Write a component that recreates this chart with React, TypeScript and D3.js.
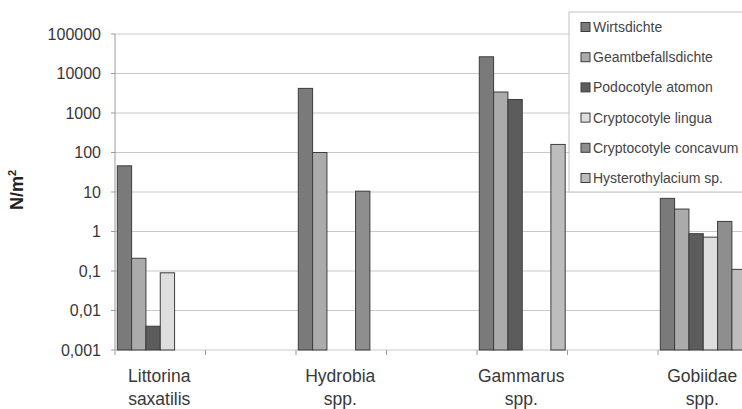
import React from "react";
import * as d3 from "d3";

const W = 742;
const H = 409;

// Categories, with empty spacer slots between the taxa
const categories = ["Littorina|saxatilis", "_1", "Hydrobia|spp.", "_2", "Gammarus|spp.", "_3", "Gobiidae|spp.", "_4"];
const seriesNames = [
  "Wirtsdichte",
  "Geamtbefallsdichte",
  "Podocotyle atomon",
  "Cryptocotyle lingua",
  "Cryptocotyle concavum",
  "Hysterothylacium sp.",
];
const seriesColors = ["#7a7a7a", "#ababab", "#5c5c5c", "#dedede", "#8e8e8e", "#bdbdbd"];

// Densities (N/m²) per taxon, null = not present
const littorina = [46, 0.21, 0.004, 0.09, null, null];
const hydrobia = [4200, 100, null, null, 10.5, null];
const gammarus = [26500, 3400, 2200, null, null, 160];
const gobiidae = [6.9, 3.7, 0.88, 0.72, 1.8, 0.11];

const valuesByCategory: Record<string, (number | null)[]> = {
  "Littorina|saxatilis": littorina,
  "Hydrobia|spp.": hydrobia,
  "Gammarus|spp.": gammarus,
  "Gobiidae|spp.": gobiidae,
};

const yTicks = [0.001, 0.01, 0.1, 1, 10, 100, 1000, 10000, 100000];
const yTickLabels = ["0,001", "0,01", "0,1", "1", "10", "100", "1000", "10000", "100000"];

const plotLeft = 115;
const plotTop = 34;
const plotBottom = 350;
const slotWidth = 90.5;

export default function App() {
  const x = d3
    .scaleBand<string>()
    .domain(categories)
    .range([plotLeft, plotLeft + slotWidth * categories.length])
    .padding(0);
  const xs = d3.scaleBand<string>().domain(seriesNames).range([2.3, 88.2]).padding(0);
  const y = d3.scaleLog().domain([0.001, 100000]).range([plotBottom, plotTop]);

  const font = "'Liberation Sans', Arial, sans-serif";
  const legendX = 569;
  const legendY = 12;

  return (
    <svg
      width={W}
      height={H}
      style={{ position: "absolute", left: 0, top: 0, background: "#fff" }}
      fontFamily={font}
    >
      <rect x={0} y={0} width={W} height={H} fill="#fff" />
      {/* gridlines */}
      {yTicks.map((t) => (
        <line key={"g" + t} x1={plotLeft} x2={W} y1={y(t)} y2={y(t)} stroke="#c9c9c9" strokeWidth={1} />
      ))}
      {/* y axis */}
      <line x1={plotLeft} x2={plotLeft} y1={plotTop} y2={plotBottom} stroke="#9a9a9a" strokeWidth={1} />
      {yTicks.map((t, i) => (
        <g key={"t" + t}>
          <line x1={plotLeft - 4} x2={plotLeft} y1={y(t)} y2={y(t)} stroke="#9a9a9a" />
          <text x={101} y={y(t) + 5.5} textAnchor="end" fontSize={16} fill="#383838">
            {yTickLabels[i]}
          </text>
        </g>
      ))}
      {/* category ticks */}
      {categories.map((c) => (
        <line
          key={"ct" + c}
          x1={x(c)!}
          x2={x(c)!}
          y1={plotBottom}
          y2={plotBottom + 5}
          stroke="#9a9a9a"
        />
      ))}
      {/* bars */}
      {categories.map((c) => {
        const vals = valuesByCategory[c];
        if (!vals) return null;
        return vals.map((v, i) =>
          v == null ? null : (
            <rect
              key={c + i}
              x={x(c)! + xs(seriesNames[i])!}
              y={y(v)}
              width={xs.bandwidth()}
              height={plotBottom - y(v)}
              fill={seriesColors[i]}
              stroke="#3c3c3c"
              strokeWidth={1}
            />
          )
        );
      })}
      {/* x labels */}
      {categories.map((c) => {
        if (c.startsWith("_")) return null;
        const [l1, l2] = c.split("|");
        const cx = x(c)! + slotWidth / 2 - 1;
        return (
          <text key={"xl" + c} x={cx} textAnchor="middle" fontSize={17.5} fill="#383838">
            <tspan x={cx} y={382}>
              {l1}
            </tspan>
            <tspan x={cx} y={405}>
              {l2}
            </tspan>
          </text>
        );
      })}
      {/* y axis title */}
      <text
        transform={`translate(23, 190) rotate(-90)`}
        textAnchor="middle"
        fontSize={18}
        fontWeight="bold"
        fill="#222"
      >
        N/m<tspan dy={-7} fontSize={11}>2</tspan>
      </text>
      {/* legend */}
      <rect x={legendX} y={legendY} width={W - legendX + 5} height={180} fill="#fff" stroke="#c4c4c4" />
      {seriesNames.map((s, i) => {
        const cy = 27 + i * 30.2;
        return (
          <g key={"lg" + s}>
            <rect x={581} y={cy - 4.5} width={9} height={9} fill={seriesColors[i]} stroke="#3c3c3c" strokeWidth={1} />
            <text x={593} y={cy + 5} fontSize={14} fill="#444">
              {s}
            </text>
          </g>
        );
      })}
    </svg>
  );
}
